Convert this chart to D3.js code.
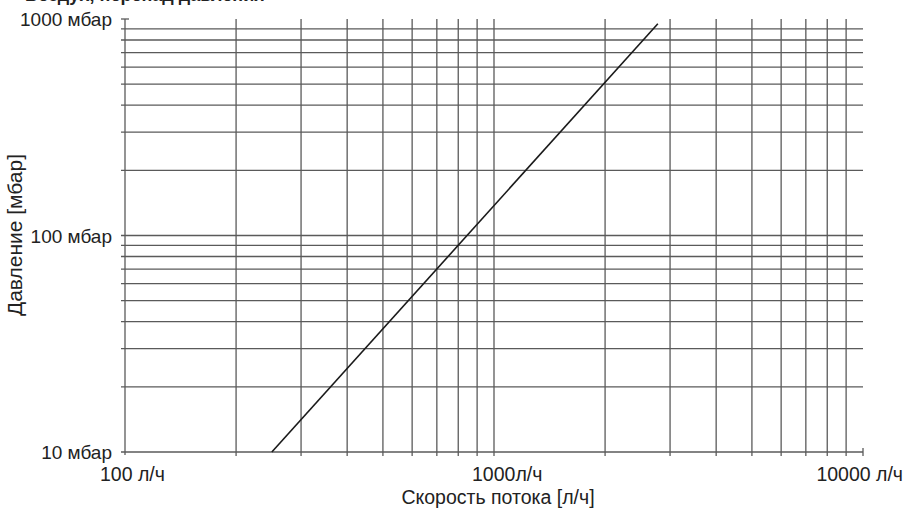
<!DOCTYPE html>
<html>
<head>
<meta charset="utf-8">
<script src="https://cdn.jsdelivr.net/npm/d3@7"></script>
<style>
  body { margin: 0; background: #fff; }
  text { font-family: "Liberation Sans", Arial, sans-serif; fill: #222; }
</style>
</head>
<body>
<div id="canvas"></div>
<script>
const width = 905;
const height = 510;

// data
const flowTicks = [100, 1000, 10000];
const flowTickLabels = ["100 л/ч", "1000л/ч", "10000 л/ч"];
const pressureTicks = [10, 100, 1000];
const pressureTickLabels = ["10 мбар", "100 мбар", "1000 мбар"];
const flowGrid = [200, 300, 400, 500, 600, 700, 800, 900, 1000, 2000, 3000, 4000, 5000, 6000, 7000, 8000, 9000];
const pressureGrid = [20, 30, 40, 50, 60, 70, 80, 90, 100, 200, 300, 400, 500, 600, 700, 800, 900];
const curveFlow = [250, 2780];
const curvePressure = [10, 950];

const svg = d3.select("#canvas")
    .append("svg")
    .attr("width", width)
    .attr("height", height)

const x = d3.scaleLog().domain([100, 10000]).range([125, 863])
const y = d3.scaleLog().domain([10, 1000]).range([452, 19])

const gridColor = "#5a5a5a"

// title line, cut by the top edge in the original
svg.append("text")
    .attr("x", 25)
    .attr("y", 1)
    .style("font-size", "18px")
    .style("font-weight", "bold")
    .text("Воздух, перепад давления")

// horizontal grid
svg.selectAll(".hgrid")
    .data(pressureGrid)
    .join("line")
    .attr("class", "hgrid")
    .attr("x1", 121)
    .attr("x2", x(10000))
    .attr("y1", d => y(d))
    .attr("y2", d => y(d))
    .attr("stroke", gridColor)
    .attr("stroke-width", 1.3)

// vertical grid
svg.selectAll(".vgrid")
    .data(flowGrid)
    .join("line")
    .attr("class", "vgrid")
    .attr("x1", d => x(d))
    .attr("x2", d => x(d))
    .attr("y1", y(1000))
    .attr("y2", y(10) + 4)
    .attr("stroke", gridColor)
    .attr("stroke-width", 1.3)

// axes lines
svg.append("line")
    .attr("x1", x(100)).attr("x2", x(100))
    .attr("y1", y(1000)).attr("y2", y(10) + 3)
    .attr("stroke", gridColor).attr("stroke-width", 1.3)
svg.append("line")
    .attr("x1", x(100) - 4).attr("x2", x(10000))
    .attr("y1", y(10)).attr("y2", y(10))
    .attr("stroke", gridColor).attr("stroke-width", 1.3)
// end ticks
svg.append("line")
    .attr("x1", x(100) - 4).attr("x2", x(100) + 4)
    .attr("y1", y(1000)).attr("y2", y(1000))
    .attr("stroke", gridColor).attr("stroke-width", 1.3)
svg.append("line")
    .attr("x1", x(10000)).attr("x2", x(10000))
    .attr("y1", y(10) - 4).attr("y2", y(10) + 4)
    .attr("stroke", gridColor).attr("stroke-width", 1.3)

// y tick labels
svg.selectAll(".ylab")
    .data(pressureTicks)
    .join("text")
    .attr("class", "ylab")
    .attr("x", 112)
    .attr("y", d => y(d))
    .attr("dy", "0.38em")
    .attr("text-anchor", "end")
    .style("font-size", "19px")
    .text((d, i) => pressureTickLabels[i])

// x tick labels
const xOffsets = [-25, -22, 40]
const xAnchors = ["start", "start", "end"]
svg.selectAll(".xlab")
    .data(flowTicks)
    .join("text")
    .attr("class", "xlab")
    .attr("x", (d, i) => x(d) + xOffsets[i])
    .attr("y", 481)
    .attr("text-anchor", (d, i) => xAnchors[i])
    .style("font-size", "19.5px")
    .text((d, i) => flowTickLabels[i])

// axis titles
svg.append("text")
    .attr("x", 498)
    .attr("y", 504)
    .attr("text-anchor", "middle")
    .style("font-size", "19.5px")
    .text("Скорость потока [л/ч]")

svg.append("text")
    .attr("transform", "translate(22,235) rotate(-90)")
    .attr("text-anchor", "middle")
    .style("font-size", "21px")
    .text("Давление [мбар]")

// characteristic curve
const line = d3.line()
    .x(d => x(d[0]))
    .y(d => y(d[1]))

svg.append("path")
    .datum(curveFlow.map((f, i) => [f, curvePressure[i]]))
    .attr("d", line)
    .attr("fill", "none")
    .attr("stroke", "#1a1a1a")
    .attr("stroke-width", 1.6)
</script>
</body>
</html>
